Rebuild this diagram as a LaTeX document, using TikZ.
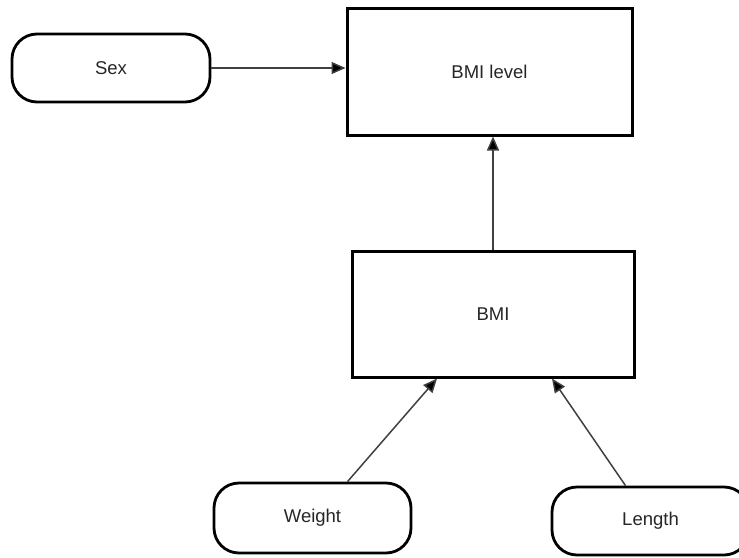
\documentclass[tikz,border=0pt]{standalone}
\usepackage{fontspec}
\setmainfont{Liberation Sans}
\usetikzlibrary{arrows.meta,calc}
\begin{document}
\begin{tikzpicture}[x=1pt,y=1pt,
  every node/.style={font=\fontsize{18.5}{22}\selectfont, text=black!85},
  procbox/.style={draw=black, line width=3pt, inner sep=0pt},
  termbox/.style={draw=black, line width=2.8pt, rounded corners=25pt, inner sep=0pt,
                  minimum width=197pt},
  link/.style={draw=black!75, line width=1.5pt,
               -{Triangle[length=14pt,width=12pt,fill=black]}}]
  \useasboundingbox (0,0) rectangle (739,-557);

  % decision boxes
  \node[procbox, minimum width=285pt, minimum height=127pt] (BMIlevel) at (489.5,-71.5) {BMI level};
  \node[procbox, minimum width=282pt, minimum height=126pt] (BMI) at (493,-314) {BMI};

  % inputs
  \node[termbox, minimum width=198pt, minimum height=68pt] (Sex) at (111,-68) {Sex};
  \node[termbox, minimum height=70pt] (Weight) at (312.5,-518) {Weight};
  \node[termbox, minimum height=68pt] (Length) at (650.5,-521) {Length};

  % connectors
  \draw[link] (Sex.east) -- (Sex.east -| BMIlevel.west);
  \draw[link] (BMI.north) -- (BMI.north |- BMIlevel.south);
  \draw[link] ($(Weight.north)+(35,0)$) -- ($(BMI.south)+(-56,0)$);
  \draw[link] ($(Length.north)+(-25,0)$) -- ($(BMI.south)+(59,0)$);
\end{tikzpicture}
\end{document}
